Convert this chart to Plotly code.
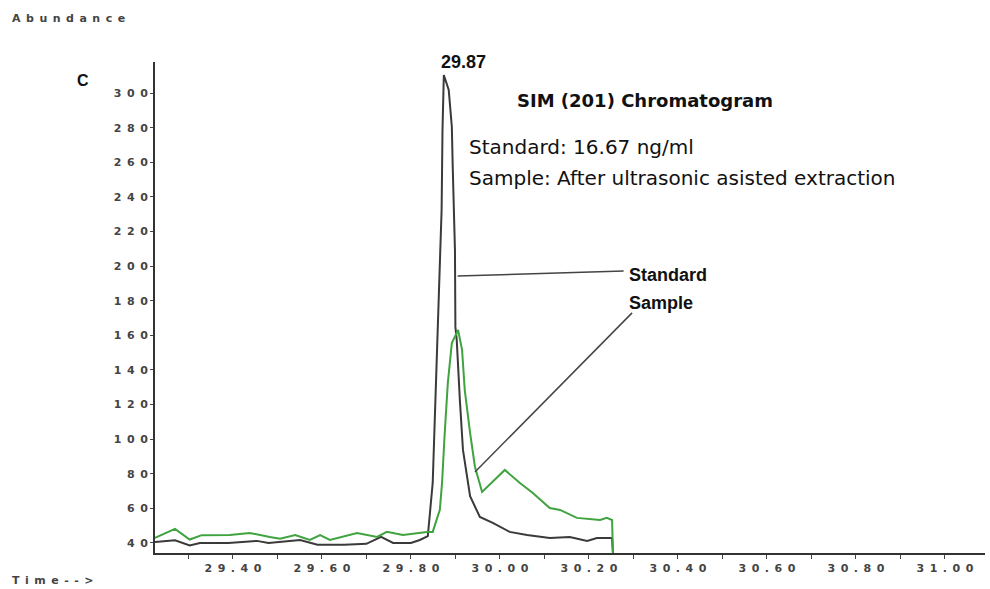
import plotly.graph_objects as go

# Standard (black) trace
std_time = [29.225, 29.270, 29.303, 29.326, 29.390, 29.454, 29.480, 29.539, 29.551, 29.590,
            29.650, 29.700, 29.733, 29.760, 29.800, 29.820, 29.838, 29.849, 29.858, 29.865,
            29.869, 29.871, 29.874, 29.885, 29.892, 29.894, 29.898, 29.899, 29.900, 29.903,
            29.910, 29.917, 29.933, 29.955, 29.984, 30.022, 30.061, 30.112, 30.157, 30.196,
            30.218, 30.252, 30.254]
std_abund = [40.5, 41.5, 38.5, 40.0, 40.0, 41.2, 40.0, 41.2, 41.7, 39.0,
             39.0, 39.5, 43.5, 40.0, 40.0, 41.7, 44.0, 74.7, 145.8, 190.3,
             232.5, 278.7, 310.5, 301.8, 280.5, 257.3, 226.7, 209.4, 164.9, 157.3,
             122.7, 93.8, 67.0, 55.0, 51.6, 46.4, 44.6, 42.9, 43.5, 41.2,
             42.9, 42.9, 34.0]

# Sample (green) trace
smp_time = [29.225, 29.270, 29.303, 29.330, 29.393, 29.438, 29.483, 29.506, 29.540, 29.573,
            29.596, 29.618, 29.679, 29.724, 29.746, 29.782, 29.836, 29.849, 29.865, 29.870,
            29.876, 29.883, 29.892, 29.906, 29.915, 29.921, 29.933, 29.944, 29.960, 30.011,
            30.045, 30.074, 30.112, 30.135, 30.173, 30.225, 30.240, 30.252, 30.254]
smp_abund = [42.9, 48.1, 42.0, 44.5, 44.6, 45.8, 43.5, 42.5, 44.6, 41.7,
             44.5, 41.7, 45.8, 43.5, 46.4, 44.6, 46.4, 46.4, 59.1, 74.7,
             103.6, 132.5, 155.6, 163.1, 151.6, 128.4, 103.6, 83.9, 69.5, 82.2,
             74.7, 68.9, 60.2, 59.1, 54.5, 53.3, 54.5, 53.3, 34.0]

x_tickvals = [29.4, 29.6, 29.8, 30.0, 30.2, 30.4, 30.6, 30.8, 31.0]
x_ticklabels = ["29.40", "29.60", "29.80", "30.00", "30.20", "30.40", "30.60", "30.80", "31.00"]
y_tickvals = [40, 60, 80, 100, 120, 140, 160, 180, 200, 220, 240, 260, 280, 300]
y_ticklabels = ["40", "60", "80", "100", "120", "140", "160", "180", "200", "220", "240", "260", "280", "300"]

SP = "\u2002"


def spaced(s):
    return SP.join(list(s))


fig = go.Figure()
fig.add_trace(go.Scatter(x=std_time, y=std_abund, mode="lines", name="Standard",
                         line=dict(color="#3a3a3a", width=2)))
fig.add_trace(go.Scatter(x=smp_time, y=smp_abund, mode="lines", name="Sample",
                         line=dict(color="#3fa33f", width=2)))

tickfont = dict(family="DejaVu Sans", size=11, color="#444444", weight="bold")

fig.update_xaxes(range=[29.225, 31.09], showgrid=False, zeroline=False,
                 showline=True, linecolor="#333333", linewidth=2,
                 tickvals=x_tickvals, ticktext=[spaced(t) for t in x_ticklabels],
                 ticks="outside", ticklen=4, tickcolor="#444444", tickfont=tickfont,
                 minor=dict(dtick=0.1, tick0=29.3, ticks="outside", ticklen=4, tickcolor="#444444"))
fig.update_yaxes(range=[34.2, 318], showgrid=False, zeroline=False,
                 showline=True, linecolor="#333333", linewidth=2,
                 tickvals=y_tickvals, ticktext=[spaced(t) for t in y_ticklabels],
                 ticks="outside", ticklen=3, tickcolor="#444444", tickfont=tickfont)

txt = dict(family="DejaVu Sans", size=20, color="#111111")
ann = []
ann.append(dict(x=29.919, y=1.0, xref="x", yref="paper", text="<b>29.87</b>", showarrow=False,
                xanchor="center", yanchor="middle",
                font=dict(family="Liberation Sans", size=18, color="#111111")))
ann.append(dict(x=-0.087, y=0.963, xref="paper", yref="paper", text="<b>C</b>", showarrow=False,
                xanchor="center", yanchor="middle",
                font=dict(family="Liberation Sans", size=16, color="#111111")))
ann.append(dict(x=30.326, y=296, xref="x", yref="y", text="<b>SIM (201) Chromatogram</b>",
                xanchor="center", yanchor="middle", showarrow=False,
                font=dict(family="DejaVu Sans", size=18, color="#111111")))
ann.append(dict(x=29.926, y=268.9, xref="x", yref="y", text="Standard: 16.67 ng/ml",
                xanchor="left", yanchor="middle", showarrow=False, font=txt))
ann.append(dict(x=29.926, y=251, xref="x", yref="y", text="Sample: After ultrasonic asisted extraction",
                xanchor="left", yanchor="middle", showarrow=False, font=txt))
ann.append(dict(x=30.285, y=195, xref="x", yref="y", text="<b>Standard</b>",
                xanchor="left", yanchor="middle", showarrow=False,
                font=dict(family="Liberation Sans", size=18, color="#111111")))
ann.append(dict(x=30.285, y=178.7, xref="x", yref="y", text="<b>Sample</b>",
                xanchor="left", yanchor="middle", showarrow=False,
                font=dict(family="Liberation Sans", size=18, color="#111111")))
ann.append(dict(x=-0.1747, y=1.0896, xref="paper", yref="paper", text=spaced("Abundance"),
                xanchor="left", yanchor="middle", showarrow=False,
                font=dict(family="DejaVu Sans", size=11, color="#444444", weight="bold")))
ann.append(dict(x=-0.1747, y=-0.055, xref="paper", yref="paper", text=spaced("Time-->"),
                xanchor="left", yanchor="middle", showarrow=False,
                font=dict(family="DejaVu Sans", size=11, color="#444444", weight="bold")))

shapes = [
    dict(type="line", xref="x", yref="y", x0=29.905, y0=194.3, x1=30.278, y1=197.2,
         line=dict(color="#444444", width=1.5)),
    dict(type="line", xref="x", yref="y", x0=29.944, y0=81, x1=30.297, y1=173,
         line=dict(color="#444444", width=1.5)),
]

fig.update_layout(width=990, height=589, margin=dict(l=155, r=5, t=62, b=36),
                  paper_bgcolor="white", plot_bgcolor="white", showlegend=False,
                  annotations=ann, shapes=shapes)

fig.write_html("out.html")
